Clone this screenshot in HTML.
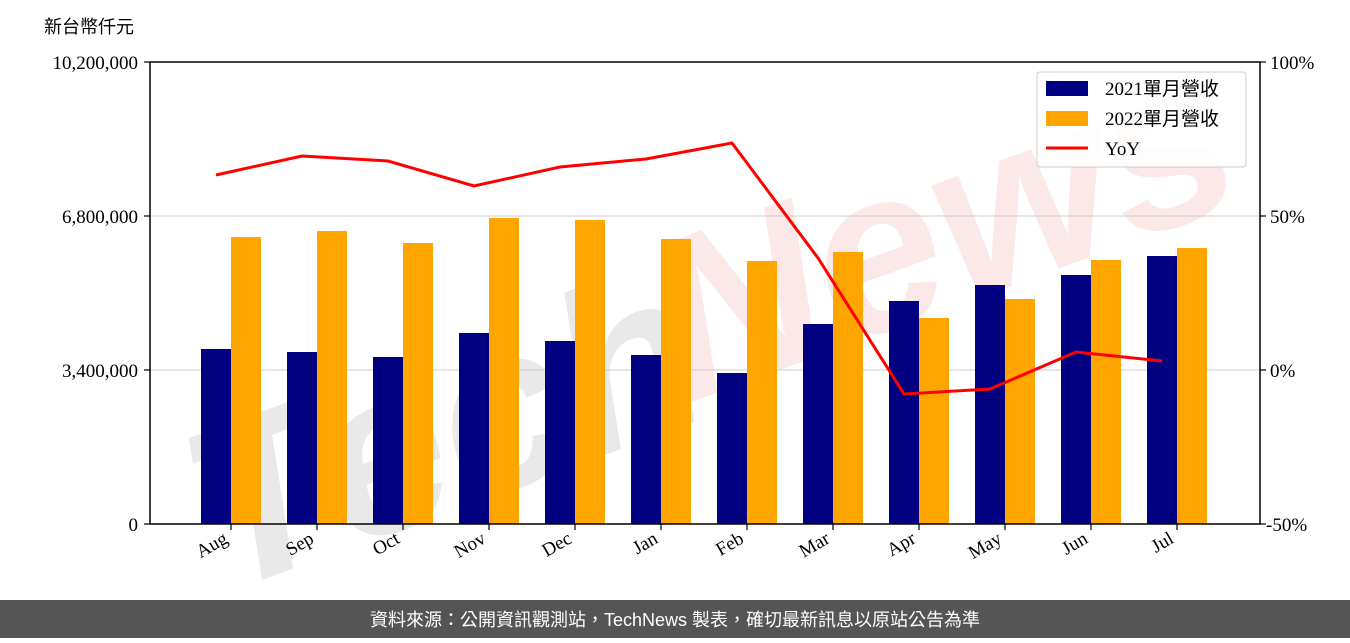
<!DOCTYPE html>
<html><head><meta charset="utf-8"><style>
body{margin:0;background:#fff;width:1350px;height:638px;overflow:hidden}
</style></head><body>
<svg width="1350" height="638" xmlns="http://www.w3.org/2000/svg" font-family="'Liberation Serif','Noto Serif CJK SC',serif">
<rect width="1350" height="638" fill="#fff"/>
<!-- watermark -->
<g transform="rotate(-20 680 300)" font-family="'Liberation Sans',sans-serif" font-weight="bold" font-style="italic" font-size="230" opacity="0.25">
<text x="150" y="420" fill="#aaa">Tech</text><text x="650" y="400" fill="#f0a8a8">News</text>
</g>
<!-- grid -->
<g stroke="#ccc" stroke-width="1">
<line x1="150" y1="216" x2="1260" y2="216"/><line x1="150" y1="370" x2="1260" y2="370"/>
</g>
<!-- bars -->
<g fill="#000080">
<rect x="201" y="349" width="30" height="175"/><rect x="287" y="352" width="30" height="172"/>
<rect x="373" y="357" width="30" height="167"/><rect x="459" y="333" width="30" height="191"/>
<rect x="545" y="341" width="30" height="183"/><rect x="631" y="355" width="30" height="169"/>
<rect x="717" y="373" width="30" height="151"/><rect x="803" y="324" width="30" height="200"/>
<rect x="889" y="301" width="30" height="223"/><rect x="975" y="285" width="30" height="239"/>
<rect x="1061" y="275" width="30" height="249"/><rect x="1147" y="256" width="30" height="268"/>
</g>
<g fill="#ffa500">
<rect x="231" y="237" width="30" height="287"/><rect x="317" y="231" width="30" height="293"/>
<rect x="403" y="243" width="30" height="281"/><rect x="489" y="218" width="30" height="306"/>
<rect x="575" y="220" width="30" height="304"/><rect x="661" y="239" width="30" height="285"/>
<rect x="747" y="261" width="30" height="263"/><rect x="833" y="252" width="30" height="272"/>
<rect x="919" y="318" width="30" height="206"/><rect x="1005" y="299" width="30" height="225"/>
<rect x="1091" y="260" width="30" height="264"/><rect x="1177" y="248" width="30" height="276"/>
</g>
<polyline fill="none" stroke="#f00" stroke-width="3" points="216,175 302,156 388,161 474,186 560,167 646,159 732,143 818,258 904,394 990,389 1076,352 1162,361"/>
<!-- axes -->
<rect x="150" y="62" width="1110" height="462" fill="none" stroke="#000" stroke-width="1.5"/>
<g stroke="#000" stroke-width="1.2">
<line x1="144" y1="62" x2="150" y2="62"/><line x1="144" y1="216" x2="150" y2="216"/><line x1="144" y1="370" x2="150" y2="370"/><line x1="144" y1="524" x2="150" y2="524"/>
<line x1="1260" y1="62" x2="1266" y2="62"/><line x1="1260" y1="216" x2="1266" y2="216"/><line x1="1260" y1="370" x2="1266" y2="370"/><line x1="1260" y1="524" x2="1266" y2="524"/>
<line x1="231" y1="524" x2="231" y2="530"/><line x1="317" y1="524" x2="317" y2="530"/><line x1="403" y1="524" x2="403" y2="530"/><line x1="489" y1="524" x2="489" y2="530"/><line x1="575" y1="524" x2="575" y2="530"/><line x1="661" y1="524" x2="661" y2="530"/><line x1="747" y1="524" x2="747" y2="530"/><line x1="833" y1="524" x2="833" y2="530"/><line x1="919" y1="524" x2="919" y2="530"/><line x1="1005" y1="524" x2="1005" y2="530"/><line x1="1091" y1="524" x2="1091" y2="530"/><line x1="1177" y1="524" x2="1177" y2="530"/>
</g>
<g font-size="19" fill="#000" text-anchor="end">
<text x="138" y="69">10,200,000</text><text x="138" y="223">6,800,000</text><text x="138" y="377">3,400,000</text><text x="138" y="531">0</text>
</g>
<g font-size="19" fill="#000">
<text x="1270" y="69">100%</text><text x="1270" y="223">50%</text><text x="1270" y="377">0%</text><text x="1266" y="531">-50%</text>
</g>
<text x="44" y="33" font-size="18" font-family="'Noto Sans CJK TC',sans-serif">新台幣仟元</text>
<g font-size="19" text-anchor="end">
<text transform="translate(229,542) rotate(-30)">Aug</text>
<text transform="translate(315,542) rotate(-30)">Sep</text>
<text transform="translate(401,542) rotate(-30)">Oct</text>
<text transform="translate(487,542) rotate(-30)">Nov</text>
<text transform="translate(573,542) rotate(-30)">Dec</text>
<text transform="translate(659,542) rotate(-30)">Jan</text>
<text transform="translate(745,542) rotate(-30)">Feb</text>
<text transform="translate(831,542) rotate(-30)">Mar</text>
<text transform="translate(917,542) rotate(-30)">Apr</text>
<text transform="translate(1003,542) rotate(-30)">May</text>
<text transform="translate(1089,542) rotate(-30)">Jun</text>
<text transform="translate(1175,542) rotate(-30)">Jul</text>
</g>
<!-- legend -->
<rect x="1037" y="72" width="209" height="95" rx="3" fill="#fff" fill-opacity="0.85" stroke="#ccc"/>
<rect x="1046" y="81" width="42" height="15" fill="#000080"/>
<rect x="1046" y="111" width="42" height="15" fill="#ffa500"/>
<line x1="1046" y1="148" x2="1088" y2="148" stroke="#f00" stroke-width="3"/>
<g font-size="19" font-family="'Liberation Serif','Noto Sans CJK TC',serif">
<text x="1105" y="95">2021單月營收</text><text x="1105" y="125">2022單月營收</text><text x="1105" y="155">YoY</text>
</g>
<!-- footer -->
<rect x="0" y="600" width="1350" height="38" fill="#555"/>
<text x="675" y="626" text-anchor="middle" fill="#fff" font-size="18" font-family="'Liberation Sans','Noto Sans CJK TC',sans-serif">資料來源：公開資訊觀測站，TechNews 製表，確切最新訊息以原站公告為準</text>
</svg>
</body></html>
